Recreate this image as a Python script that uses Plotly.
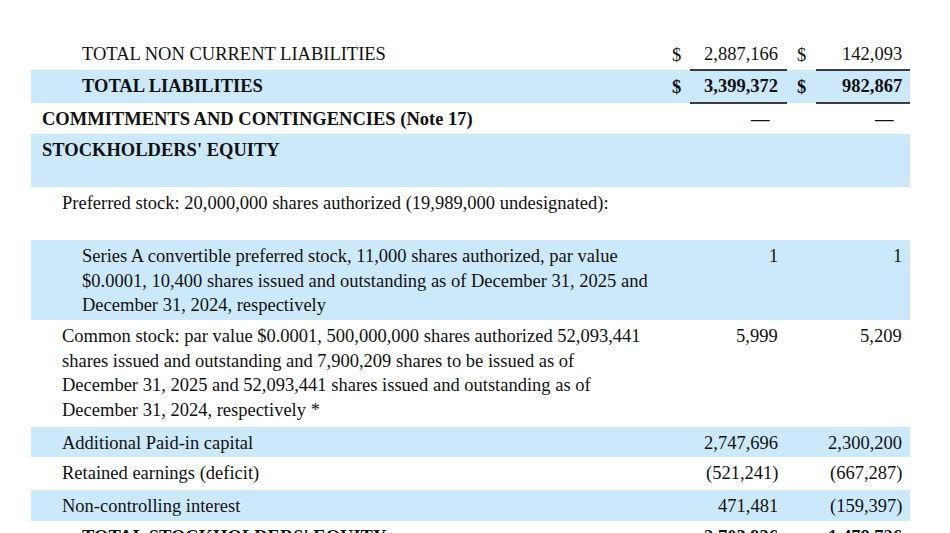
import plotly.graph_objects as go

# balance sheet rows (label lines, 2025 value, 2024 value)
labels = [
    ["TOTAL NON CURRENT LIABILITIES"],
    ["TOTAL LIABILITIES"],
    ["COMMITMENTS AND CONTINGENCIES (Note 17)"],
    ["STOCKHOLDERS' EQUITY"],
    ["Preferred stock: 20,000,000 shares authorized (19,989,000 undesignated):"],
    ["Series A convertible preferred stock, 11,000 shares authorized, par value",
     "$0.0001, 10,400 shares issued and outstanding as of December 31, 2025 and",
     "December 31, 2024, respectively"],
    ["Common stock: par value $0.0001, 500,000,000 shares authorized 52,093,441",
     "shares issued and outstanding and 7,900,209 shares to be issued as of",
     "December 31, 2025 and 52,093,441 shares issued and outstanding as of",
     "December 31, 2024, respectively *"],
    ["Additional Paid-in capital"],
    ["Retained earnings (deficit)"],
    ["Non-controlling interest"],
    ["TOTAL STOCKHOLDERS' EQUITY"],
]
val_2025 = ["2,887,166", "3,399,372", "\u2014", "", "", "1", "5,999", "2,747,696", "(521,241)", "471,481", "2,703,936"]
val_2024 = ["142,093", "982,867", "\u2014", "", "", "1", "5,209", "2,300,200", "(667,287)", "(159,397)", "1,478,726"]
dollar = [True, True, False, False, False, False, False, False, False, False, False]
bold = [False, True, True, True, False, False, False, False, False, False, True]

# layout (pixel-like coordinates)
row_top = [38, 70, 103, 134, 187, 240, 320, 427, 457, 490, 521]
row_bot = [70, 103, 134, 187, 240, 320, 427, 457, 490, 521, 560]
shaded = [False, True, False, True, False, True, False, True, False, True, False]
indent = [80, 80, 40, 40, 60, 80, 60, 60, 60, 60, 80]
BLUE = "#cce9fb"
FONT = "Liberation Serif"
FS = 18.5

fig = go.Figure()
shapes = []
ann = []
for i, lines in enumerate(labels):
    if shaded[i]:
        shapes.append(dict(type="rect", x0=31, x1=910, y0=row_top[i], y1=row_bot[i],
                           fillcolor=BLUE, line_width=0, layer="below"))
    y0 = row_top[i] + 16
    for k, t in enumerate(lines):
        txt = "<b>%s</b>" % t if bold[i] else t
        ann.append(dict(x=indent[i], y=y0 + 24.5 * k, text=txt, xanchor="left", yanchor="middle",
                        showarrow=False, font=dict(family=FONT, size=FS, color="#111")))
    for v, xr in [(val_2025[i], 780), (val_2024[i], 904)]:
        if v:
            if v == "\u2014":
                xr -= 8
            ann.append(dict(x=xr, y=y0, text="<b>%s</b>" % v if bold[i] else v, xanchor="right",
                            yanchor="middle", showarrow=False,
                            font=dict(family=FONT, size=FS, color="#111")))
    if dollar[i]:
        for xs in [676, 801]:
            ann.append(dict(x=xs, y=y0 + 1, text="<b>$</b>" if bold[i] else "$", xanchor="center",
                            yanchor="middle", showarrow=False,
                            font=dict(family=FONT, size=FS, color="#111")))

for y in [70, 103]:
    for xa, xb in [(690, 787), (816, 910)]:
        shapes.append(dict(type="line", x0=xa, x1=xb, y0=y, y1=y, line=dict(color="black", width=1.5)))

fig.update_layout(
    width=950, height=533, margin=dict(l=0, r=0, t=0, b=0),
    plot_bgcolor="white", paper_bgcolor="white", showlegend=False,
    xaxis=dict(range=[8, 958], visible=False, fixedrange=True),
    yaxis=dict(range=[541, 8], visible=False, fixedrange=True),
    shapes=shapes, annotations=ann,
)
fig.write_html("out.html")
